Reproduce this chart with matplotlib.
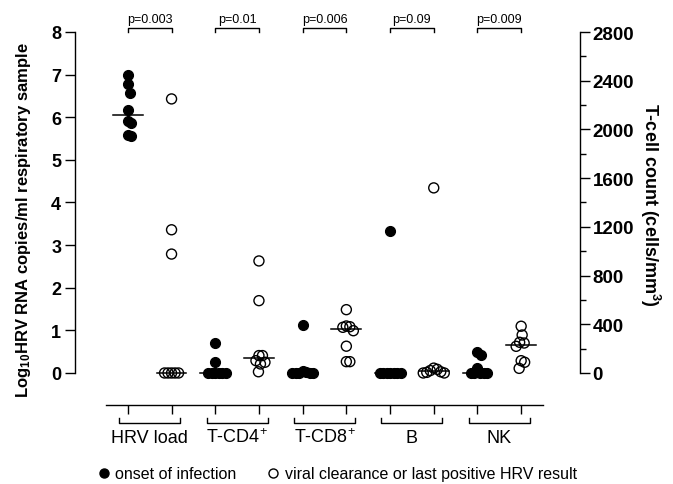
import numpy as np
import matplotlib
matplotlib.use("Agg")
import matplotlib.pyplot as plt
from matplotlib.lines import Line2D

plt.rcParams['font.family'] = ['Liberation Sans', 'DejaVu Sans']
plt.rcParams['mathtext.fontset'] = 'custom'
plt.rcParams['mathtext.rm'] = 'Liberation Sans'
plt.rcParams['mathtext.it'] = 'Liberation Sans:italic'
plt.rcParams['mathtext.bf'] = 'Liberation Sans:bold'
plt.rcParams['mathtext.default'] = 'regular'

# groups along the x axis (each has onset / clearance columns)
groups = ["HRV load", "T-CD4$^{+}$", "T-CD8$^{+}$", "B", "NK"]
p_values = ["p=0.003", "p=0.01", "p=0.006", "p=0.09", "p=0.009"]

# log10 HRV RNA copies/ml (left axis)
hrv_onset = [6.99, 6.77, 6.58, 6.17, 5.92, 5.87, 5.59, 5.55]
hrv_clear = [6.43, 3.36, 2.79, 0, 0, 0, 0, 0]

# cell counts, cells/mm3 (right axis)
cd4_onset = [245, 88, 0, 0, 0, 0, 0, 0]
cd4_clear = [920, 594, 143, 143, 101, 88, 74, 10]
cd8_onset = [397, 15, 5, 0, 0, 0, 0, 0]
cd8_clear = [520, 386, 380, 375, 347, 220, 93, 93]
b_onset = [1166, 0, 0, 0, 0, 0, 0, 0]
b_clear = [1520, 40, 30, 20, 10, 5, 0, 0]
nk_onset = [175, 147, 40, 0, 0, 0, 0, 0]
nk_clear = [384, 312, 252, 246, 219, 101, 88, 38]

left_ticks = list(range(0, 9))
right_ticks = list(range(0, 2801, 400))

W, H = 673, 485
fig = plt.figure(figsize=(W / 100, H / 100), dpi=100)
ax = fig.add_axes([106 / W, 1 - 406 / H, 437 / W, 373 / H])
ax.set_xlim(-0.5, 9.5)
ax.set_ylim(-0.751, 8)
ax2 = ax.twinx()
ax2.set_ylim(-0.751 * 350, 2800)


def swarm(axis, x0, vals, rx=3.5, ry=9.0, step=0.5):
    """Simple beeswarm: spread close values sideways (elliptic gap, pixels)."""
    vals = np.asarray(vals, dtype=float)
    ys = axis.transData.transform(np.column_stack([np.full(len(vals), x0), vals]))[:, 1]
    placed = []
    dx = np.zeros(len(vals))
    for i in np.argsort(-vals, kind="stable"):
        k = 0
        found = None
        while found is None:
            for c in ([0.0] if k == 0 else [k * step, -k * step]):
                if all(((c - px) / rx) ** 2 + ((ys[i] - py) / ry) ** 2 >= 1 for px, py in placed):
                    found = c
                    break
            k += 1
        dx[i] = found
        placed.append((found, ys[i]))
    ppu = axis.transData.transform((1, 0))[0] - axis.transData.transform((0, 0))[0]
    return x0 + dx / ppu


series = [
    (ax, hrv_onset, hrv_clear),
    (ax2, cd4_onset, cd4_clear),
    (ax2, cd8_onset, cd8_clear),
    (ax2, b_onset, b_clear),
    (ax2, nk_onset, nk_clear),
]

for g, (a, onset, clear) in enumerate(series):
    for j, vals in enumerate([onset, clear]):
        x0 = 2 * g + j
        xs = swarm(a, x0, vals)
        if j == 0:
            a.scatter(xs, vals, s=52, color="black", edgecolor="black", linewidth=0.8, zorder=3, clip_on=False)
        else:
            a.scatter(xs, vals, s=52, facecolor="none", edgecolor="black", linewidth=1.0, zorder=3, clip_on=False)
        med = np.median(vals)
        a.plot([x0 - 0.34, x0 + 0.34], [med, med], color="black", lw=1.1, zorder=4, clip_on=False)

# spines
for s in ["top", "right"]:
    ax.spines[s].set_visible(False)
for s in ["top", "left", "bottom"]:
    ax2.spines[s].set_visible(False)
ax.spines["left"].set_position(("outward", 22.3))
ax.spines["left"].set_bounds(0, 8)
ax2.spines["right"].set_position(("outward", 26.6))
ax2.spines["right"].set_bounds(0, 2800)
for sp in [ax.spines["left"], ax.spines["bottom"], ax2.spines["right"]]:
    sp.set_linewidth(1.0)

ax.set_xticks(range(10))
ax.set_xticklabels([])
ax.tick_params(axis="x", length=6.5, width=1.0)
ax.set_yticks(left_ticks)
ax.set_yticklabels([str(t) for t in left_ticks], fontsize=13, fontweight="bold")
ax.tick_params(axis="y", length=7, width=1.0, pad=3)
ax2.set_yticks(right_ticks)
ax2.set_yticklabels([str(t) for t in right_ticks], fontsize=13.5, fontweight="bold")
ax2.set_yticks(np.arange(200, 2800, 400), minor=True)
ax2.tick_params(axis="y", which="major", length=7, width=1.0, pad=2)
ax2.tick_params(axis="y", which="minor", length=4, width=1.0)

# brackets below axis and group labels, brackets + p-values on top
xt = ax.get_xaxis_transform()
for g, name in enumerate(groups):
    c = 2 * g + 0.5
    ax.plot([c - 0.7, c - 0.7, c + 0.7, c + 0.7], [-0.035, -0.048, -0.048, -0.035],
            transform=xt, color="black", lw=1.0, clip_on=False)
    ax.text(c, -0.099, name, transform=xt, ha="center", va="baseline", fontsize=13, clip_on=False)
    ax.plot([2 * g, 2 * g, 2 * g + 1, 2 * g + 1], [8.0, 8.094, 8.094, 8.0],
            color="black", lw=1.0, clip_on=False)
    ax.text(c, 8.235, p_values[g], ha="center", va="baseline", fontsize=9, clip_on=False)

fig.text(24 / W, 1 - 220 / H, "Log$_{10}$HRV RNA copies/ml respiratory sample",
         rotation=90, ha="center", va="center", fontsize=12, fontweight="bold")
fig.text(650 / W, 1 - 205 / H, "T-cell count (cells/mm$^{3}$)",
         rotation=270, ha="center", va="center", fontsize=13, fontweight="bold")

handles = [
    Line2D([], [], ls="none", marker="o", markersize=6.5, color="black"),
    Line2D([], [], ls="none", marker="o", markersize=6.5, markerfacecolor="none",
           markeredgecolor="black", markeredgewidth=1.0),
]
fig.legend(handles, ["onset of infection", "viral clearance or last positive HRV result"],
           loc="center", bbox_to_anchor=(338 / W, 1 - 475 / H), ncol=2, frameon=False,
           fontsize=11.5, handlelength=0.6, handletextpad=0.4, columnspacing=2.0,
           borderpad=0, borderaxespad=0)

fig.savefig("out.png", dpi=100)
